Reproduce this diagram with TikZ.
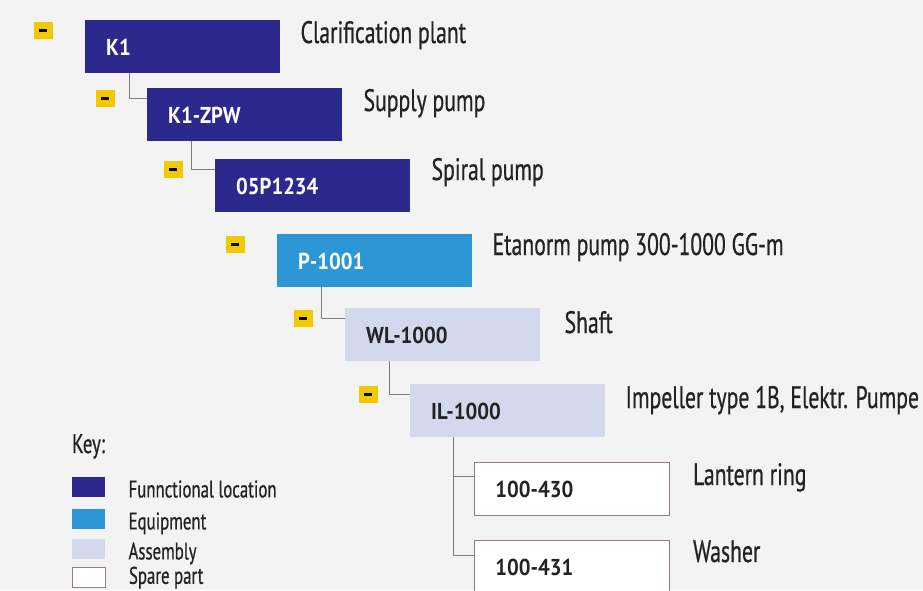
\documentclass[tikz,border=0pt]{standalone}
\usepackage{fontspec}
\setmainfont{PT Sans}[FakeStretch=0.7, FakeBold=0.6]
\newfontfamily\boxfont{PT Sans}[FakeStretch=0.9]
\usetikzlibrary{positioning}

\definecolor{funcblue}{RGB}{43,42,140}
\definecolor{equipblue}{RGB}{45,150,212}
\definecolor{assemgray}{RGB}{212,216,236}
\definecolor{spareline}{RGB}{150,125,130}
\definecolor{markyellow}{RGB}{242,200,0}
\definecolor{linegray}{RGB}{125,125,125}
\definecolor{paper}{RGB}{243,243,243}
\definecolor{inkgray}{RGB}{35,35,35}

\begin{document}
\begin{tikzpicture}[x=1pt, y=-1pt,
        item/.style={rectangle, anchor=north west, minimum width=195pt, minimum height=53pt,
            inner xsep=21pt, inner ysep=0pt, text width=153pt, align=left,
            text height=17pt, text depth=0pt, font=\boxfont\bfseries\fontsize{23}{23}\selectfont},
        funcloc/.style={fill=funcblue, text=white},
        equip/.style={fill=equipblue, text=white},
        assem/.style={fill=assemgray, text=inkgray},
        spare/.style={fill=white, draw=spareline, line width=0.9pt, text=inkgray},
        desc/.style={anchor=base west, inner sep=0pt, text=inkgray, font=\fontsize{31}{31}\selectfont},
        marker/.style={rectangle, fill=markyellow, minimum width=19pt, minimum height=17pt, inner sep=0pt},
        conn/.style={draw=linegray, line width=1pt},
        swatch/.style={rectangle, anchor=north west, minimum width=33pt, minimum height=20pt, inner sep=0pt},
        keytext/.style={anchor=base west, inner sep=0pt, text=inkgray, font=\fontsize{24}{24}\selectfont}]

        % Paper
        \fill[paper] (0,0) rectangle (923,590);
        \useasboundingbox (0,0) rectangle (923,590);

        % Hierarchy boxes
        \node[item, funcloc] (k1) at (85,20) {K1};
        \node[item, funcloc] (k1zpw) at (147,88) {K1-ZPW};
        \node[item, funcloc] (p05) at (215,159) {05P1234};
        \node[item, equip] (p1001) at (277,234) {P-1001};
        \node[item, assem] (wl) at (345,308) {WL-1000};
        \node[item, assem] (il) at (410,384) {IL-1000};
        \node[item, spare] (s430) at (474,462) {100-430};
        \node[item, spare] (s431) at (474,540) {100-431};

        % Descriptions
        \node[desc] (dk1) at ([xshift=20pt,yshift=-23pt]k1.north east) {Clarification plant};
        \node[desc] (dk1zpw) at ([xshift=21pt,yshift=-23pt]k1zpw.north east) {Supply pump};
        \node[desc] (dp05) at ([xshift=21pt,yshift=-21pt]p05.north east) {Spiral pump};
        \node[desc] (dp1001) at ([xshift=20pt,yshift=-21pt]p1001.north east) {Etanorm pump 300-1000 GG-m};
        \node[desc] (dwl) at ([xshift=24pt,yshift=-25pt]wl.north east) {Shaft};
        \node[desc] (dil) at ([xshift=20pt,yshift=-24pt]il.north east) {Impeller type 1B, Elektr. Pumpe};
        \node[desc] (ds430) at ([xshift=23pt,yshift=-23pt]s430.north east) {Lantern ring};
        \node[desc] (ds431) at ([xshift=23pt,yshift=-22pt]s431.north east) {Washer};

        % Collapse markers
        \foreach \b in {k1,k1zpw,p05,p1001,wl,il} {
            \node[marker] (m\b) at ([xshift=-42pt,yshift=-10pt]\b.north west) {\rule{8pt}{3pt}};
        }

        % Connectors
        \foreach \a/\b in {k1/k1zpw, k1zpw/p05, p1001/wl, wl/il} {
            \draw[conn] ([xshift=44pt]\a.south west) |- ([yshift=-10pt]\b.north west);
        }
        \draw[conn] ([xshift=43pt]il.south west) |- ([yshift=-14pt]s430.north west);
        \draw[conn] ([xshift=43pt]il.south west) |- ([yshift=-15pt]s431.north west);

        % Key
        \node[anchor=base west, inner sep=0pt, text=inkgray, font=\fontsize{27}{27}\selectfont] (key) at (72,453) {Key:};
        \node[swatch, fill=funcblue] (kfun) at (72,477) {};
        \node[swatch, fill=equipblue] (kequ) at (72,509) {};
        \node[swatch, fill=assemgray] (kass) at (72,539) {};
        \node[swatch, fill=white, draw=spareline, line width=0.8pt] (kspa) at (72,567) {};
        \node[keytext] (lfun) at ([xshift=23pt]kfun.south east) {Funnctional location};
        \node[keytext] (lequ) at ([xshift=23pt]kequ.south east) {Equipment};
        \node[keytext] (lass) at ([xshift=23pt]kass.south east) {Assembly};
        \node[keytext] (lspa) at ([xshift=23pt,yshift=4pt]kspa.south east) {Spare part};
\end{tikzpicture}
\end{document}
